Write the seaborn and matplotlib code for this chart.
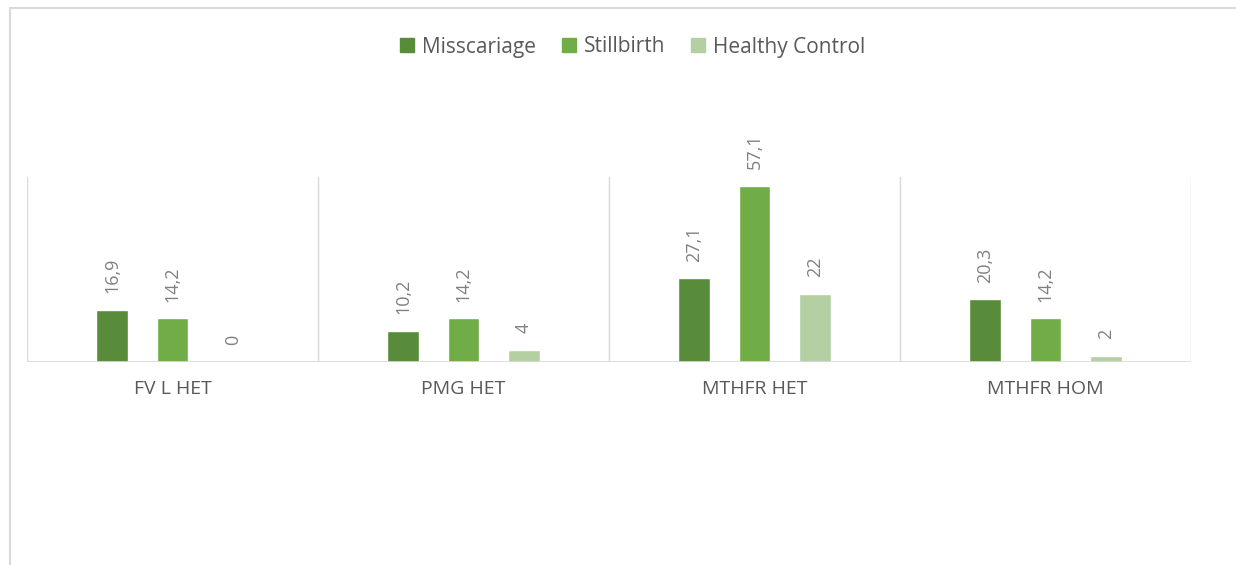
import matplotlib
matplotlib.use("Agg")
import matplotlib.pyplot as plt
from matplotlib.lines import Line2D
import pandas as pd
import seaborn as sns

# Data
categories = ["FV L HET", "PMG HET", "MTHFR HET", "MTHFR HOM"]
groups = ["Misscariage", "Stillbirth", "Healthy Control"]
misscariage = [16.9, 10.2, 27.1, 20.3]
stillbirth = [14.2, 14.2, 57.1, 14.2]
healthy_control = [0, 4, 22, 2]

colors = ["#598C3A", "#70AD47", "#B4D0A3"]
grid_color = "#D9D9D9"
text_color = "#595959"
label_color = "#808080"

rows = []
for name, vals in zip(groups, [misscariage, stillbirth, healthy_control]):
    for cat, v in zip(categories, vals):
        rows.append({"category": cat, "group": name, "value": v})
df = pd.DataFrame(rows)

sns.set_theme(style="white")
plt.rcParams["font.family"] = ["Open Sans", "DejaVu Sans"]

fig = plt.figure(figsize=(12.36, 5.65), dpi=100)
ax = fig.add_axes([27 / 1236, 1 - 362 / 565, (1191 - 27) / 1236, (362 - 177) / 565])

sns.barplot(data=df, x="category", y="value", hue="group", order=categories,
            hue_order=groups, palette=colors, width=0.62, gap=0.47,
            saturation=1, ax=ax, legend=False, errorbar=None)

ax.set_xlim(-0.5, 3.5)
ax.set_ylim(0, 60)

# Category separators and baseline
for x in [-0.5, 0.5, 1.5, 2.5, 3.5]:
    ax.axvline(x, color=grid_color, lw=1, zorder=0)
ax.axhline(0, color=grid_color, lw=1.2, zorder=3)

for s in ax.spines.values():
    s.set_visible(False)
ax.set_yticks([])
ax.set_xlabel("")
ax.set_ylabel("")
ax.tick_params(axis="x", length=0, pad=13, labelsize=14, labelcolor=text_color)

# Value labels
for cont, vals in zip(ax.containers, [misscariage, stillbirth, healthy_control]):
    labels = [f"{v:g}".replace(".", ",") for v in vals]
    ax.bar_label(cont, labels=labels, rotation=90, padding=12,
                 fontsize=13, color=label_color)

# Legend
handles = [Line2D([], [], marker="s", linestyle="none", markersize=10,
                  markerfacecolor=c, markeredgecolor=c) for c in colors]
fig.legend(handles, groups, loc="center", bbox_to_anchor=(632 / 1236, 1 - 47 / 565),
           ncol=3, frameon=False, fontsize=15, labelcolor=text_color,
           handletextpad=0.3, columnspacing=1.2, handlelength=0.8)

# Outer chart frame (top and left edges)
fig.add_artist(Line2D([10 / 1236, 10 / 1236], [0, 1 - 8 / 565],
                      transform=fig.transFigure, color=grid_color, lw=1.5))
fig.add_artist(Line2D([10 / 1236, 1], [1 - 8 / 565, 1 - 8 / 565],
                      transform=fig.transFigure, color=grid_color, lw=1.5))

fig.savefig("out.png", dpi=100, facecolor="white")
